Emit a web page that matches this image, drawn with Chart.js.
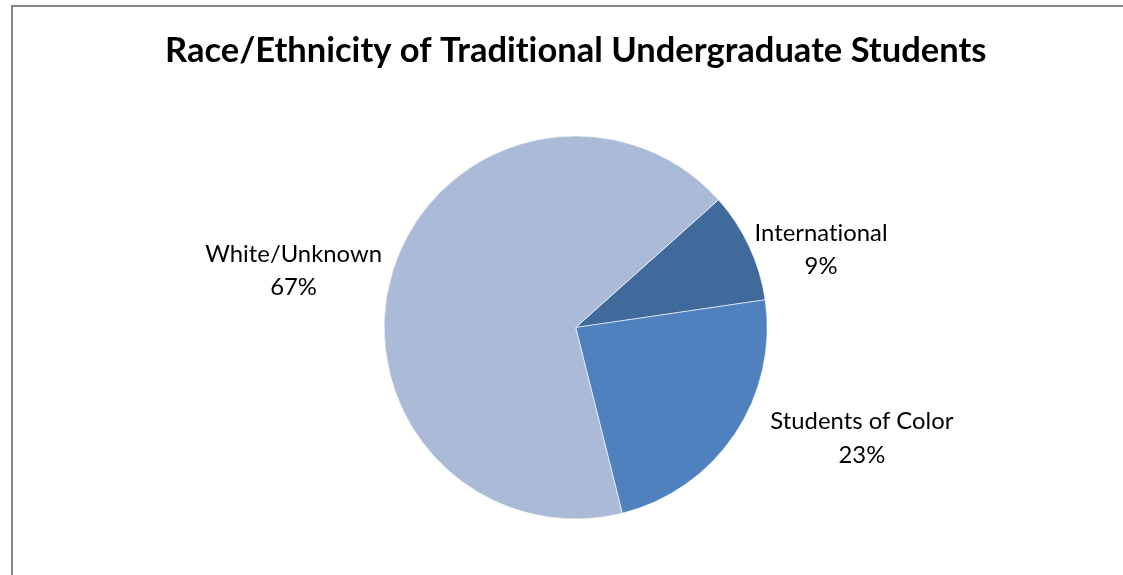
<!DOCTYPE html>
<html>
<head>
<meta charset="utf-8">
<script src="https://cdn.jsdelivr.net/npm/chart.js@4/dist/chart.umd.min.js"></script>
<style>
  html, body { margin: 0; padding: 0; background: #ffffff; }
  #wrap { position: relative; width: 1123px; height: 575px; }
  canvas { display: block; }
</style>
</head>
<body>
<div id="wrap"><canvas id="c" width="1123" height="575"></canvas></div>
<script>
// ---- data ----
const chartTitle = 'Race/Ethnicity of Traditional Undergraduate Students';
const categories = ['International', 'Students of Color', 'White/Unknown'];
const shares = [9.3, 23.4, 67.3];
const sliceColors = ['#3F6A9B', '#4E81BD', '#ABBAD7'];

// ---- font fitting ----
const FONT = 'Lato, "Open Sans", "Liberation Sans", sans-serif';
const mctx = document.createElement('canvas').getContext('2d');
function fitSize(text, weight, target) {
  mctx.font = weight + ' 100px ' + FONT;
  const w = mctx.measureText(text).width;
  return 100 * target / w;
}
const titleSize = fitSize(chartTitle, 'bold', 822);
const labelSize = fitSize('Students of Color', 'normal', 183);

const titleLH = 1.2;
const titleH = titleSize * titleLH;
const titleCenterY = 51;
const padTop = titleCenterY - titleH / 2;
const areaTop = 135.5;
const padBottomTitle = areaTop - padTop - titleH;

// per-label fine positioning relative to computed anchor
const labelTweaks = [[-5.5, 8.6], [25.5, -2.4], [0.8, 3]];
const lineGap = 33.7;

const framePlugin = {
  id: 'frame',
  beforeDraw(chart) {
    const ctx = chart.ctx;
    if ('letterSpacing' in ctx) ctx.letterSpacing = '0.01px';
    ctx.save();
    ctx.fillStyle = '#878787';
    ctx.fillRect(11, 5, 2, 570);
    ctx.fillRect(11, 5, 1112, 2);
    ctx.restore();
  }
};

const labelPlugin = {
  id: 'outLabels',
  afterDatasetsDraw(chart) {
    const ctx = chart.ctx;
    const meta = chart.getDatasetMeta(0);
    const data = chart.data.datasets[0].data;
    const total = data.reduce((a, b) => a + b, 0);
    ctx.save();
    ctx.font = 'normal ' + labelSize + 'px ' + FONT;
    ctx.fillStyle = '#000000';
    ctx.textAlign = 'center';
    ctx.textBaseline = 'middle';
    meta.data.forEach((arc, i) => {
      const p = arc.getProps(['x', 'y', 'startAngle', 'endAngle', 'outerRadius'], true);
      const mid = (p.startAngle + p.endAngle) / 2;
      const dx = Math.cos(mid), dy = Math.sin(mid);
      const ax = p.x + dx * (p.outerRadius + 12);
      const ay = p.y + dy * (p.outerRadius + 12);
      const lines = [chart.data.labels[i], Math.round(data[i] / total * 100) + '%'];
      const w = Math.max(...lines.map(t => ctx.measureText(t).width));
      const cx = ax + Math.sign(dx) * w / 2 + labelTweaks[i][0];
      const cy = ay + labelTweaks[i][1];
      ctx.fillText(lines[0], cx, cy - lineGap / 2);
      ctx.fillText(lines[1], cx, cy + lineGap / 2);
    });
    ctx.restore();
  }
};

new Chart(document.getElementById('c'), {
  type: 'pie',
  data: {
    labels: categories,
    datasets: [{
      data: shares,
      backgroundColor: sliceColors,
      borderColor: 'rgba(255,255,255,0.6)',
      borderWidth: 1
    }]
  },
  options: {
    responsive: false,
    animation: false,
    rotation: 48.2,
    layout: { padding: { top: padTop, left: 150, right: 121.6, bottom: 55.5 } },
    plugins: {
      legend: { display: false },
      tooltip: { enabled: false },
      title: {
        display: true,
        text: chartTitle,
        color: '#000000',
        font: { family: FONT, size: titleSize, weight: 'bold', lineHeight: titleLH },
        padding: { top: 0, bottom: padBottomTitle }
      }
    }
  },
  plugins: [framePlugin, labelPlugin]
});
</script>
</body>
</html>
